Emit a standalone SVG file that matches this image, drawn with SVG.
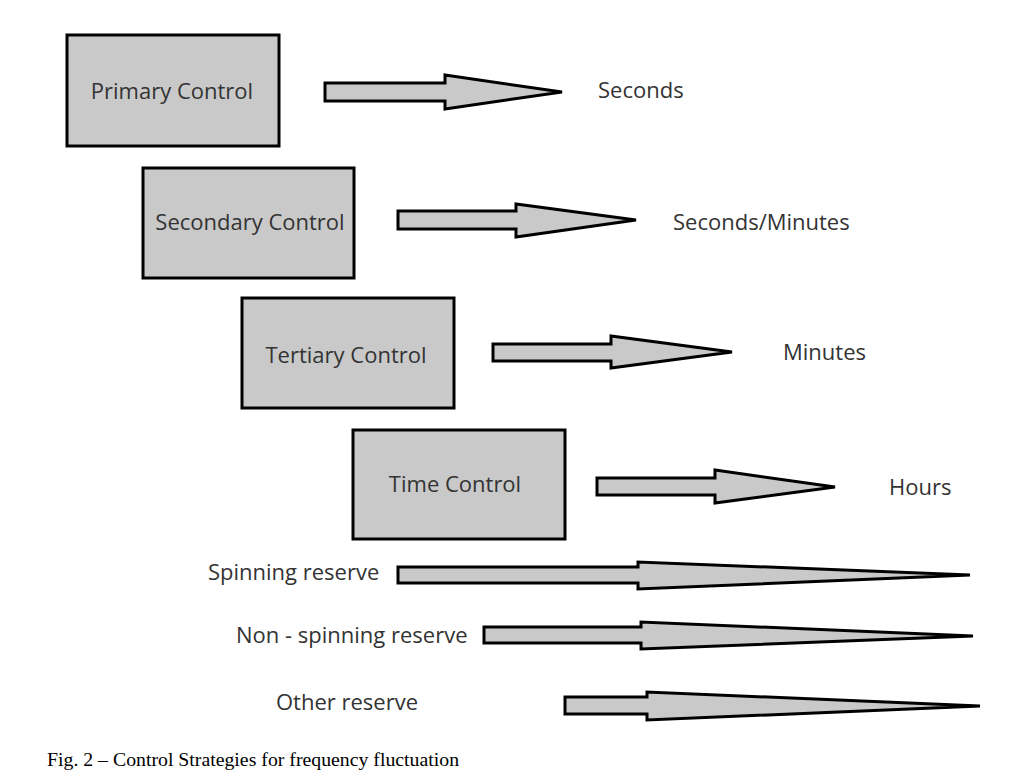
<svg xmlns="http://www.w3.org/2000/svg" width="1016" height="778" viewBox="0 0 1016 778">
<style>
.box{fill:#c9c9c9;stroke:#000;stroke-width:3}
.arr{fill:#c9c9c9;stroke:#000;stroke-width:3;stroke-linejoin:miter}
.t{font-family:"Open Sans","Noto Sans",sans-serif;font-size:22px;fill:#333;dominant-baseline:central}
.cap{font-family:"Liberation Serif",serif;font-size:19.8px;fill:#000}
</style>
<rect width="1016" height="778" fill="#fff"/>
<g id="primary"><rect class="box" x="67" y="35" width="212" height="111"/><text class="t" x="172" y="90" text-anchor="middle">Primary Control</text></g>
<g id="secondary"><rect class="box" x="143" y="168" width="211" height="110"/><text class="t" x="250" y="221" text-anchor="middle">Secondary Control</text></g>
<g id="tertiary"><rect class="box" x="242" y="298" width="212" height="110"/><text class="t" x="346" y="354" text-anchor="middle">Tertiary Control</text></g>
<g id="time"><rect class="box" x="353" y="430" width="212" height="109"/><text class="t" x="455" y="483" text-anchor="middle">Time Control</text></g>
<g id="seconds"><text class="t" x="598" y="89">Seconds</text></g>
<g id="secmin"><text class="t" x="673" y="221">Seconds/Minutes</text></g>
<g id="minutes"><text class="t" x="783" y="351">Minutes</text></g>
<g id="hours"><text class="t" x="889" y="486">Hours</text></g>
<g id="spinning"><text class="t" x="208" y="571">Spinning reserve</text></g>
<g id="nonspinning"><text class="t" x="236" y="634">Non - spinning reserve</text></g>
<g id="other"><text class="t" x="276" y="701">Other reserve</text></g>
<g id="connectors">
<polygon class="arr" points="325,83 445,83 445,75 562,92 445,109 445,101 325,101"/>
<polygon class="arr" points="398,211 516,211 516,204 636,220 516,237 516,229 398,229"/>
<polygon class="arr" points="493,344 611,344 611,336 732,352 611,368 611,361 493,361"/>
<polygon class="arr" points="597,478 715,478 715,470 835,487 715,503 715,495 597,495"/>
<polygon class="arr" points="398,567 638,567 638,562 970,575 638,589 638,583 398,583"/>
<polygon class="arr" points="484,627 641,627 641,622 973,636 641,649 641,643 484,643"/>
<polygon class="arr" points="565,697 647,697 647,692 980,706 647,720 647,714 565,714"/>
</g>
<text class="cap" x="47" y="766">Fig. 2 – Control Strategies for frequency fluctuation</text>
</svg>
